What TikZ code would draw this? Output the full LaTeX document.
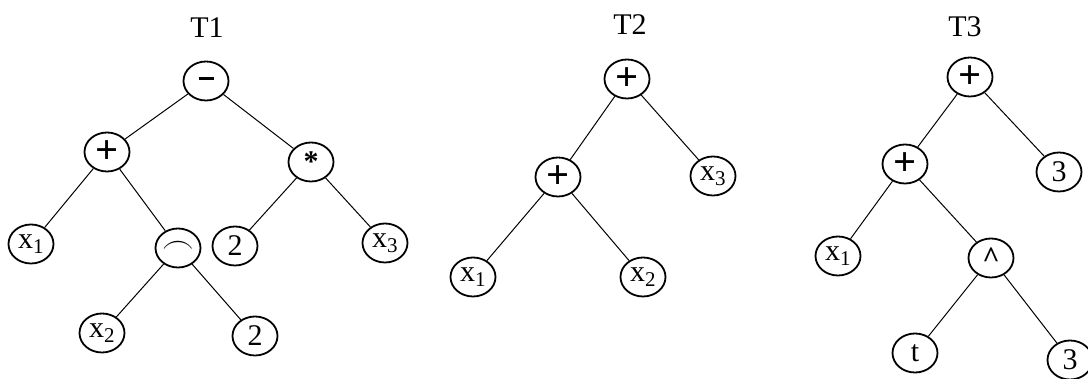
\documentclass[tikz,border=0pt]{standalone}
\usepackage{fontspec}
\setmainfont{Liberation Serif}
\usetikzlibrary{shapes.geometric}
\newcommand{\bigplus}{\scalebox{1.35}{\textbf{+}}}
\begin{document}
\begin{tikzpicture}[x=1pt,y=-1pt,
  nd/.style={ellipse,draw,line width=1.8pt,inner sep=0pt,minimum width=45pt,minimum height=39pt,font=\fontsize{30}{32}\selectfont},
  ttl/.style={font=\fontsize{30}{32}\selectfont},
  edge/.style={line width=1pt}]
\useasboundingbox (0,0) rectangle (1088,379);
% T1
\node[ttl] (t1) at (207,28) {T1};
\node[nd] (a) at (206,81) {\rule[0.3ex]{0.5em}{3pt}};
\node[nd] (b) at (107,152) {\bigplus};
\node[nd] (c) at (311,162) {\textbf{*}};
\node[nd] (d) at (31,244) {x\textsubscript{1}};
\node[nd] (e) at (178,248) {\scalebox{1.3}{$\frown$}};
\node[nd] (f) at (235,246) {2};
\node[nd] (g) at (385,243) {x\textsubscript{3}};
\node[nd] (h) at (102,333) {x\textsubscript{2}};
\node[nd] (i) at (255,336) {2};
\draw[edge] (a) -- (b);
\draw[edge] (a) -- (c);
\draw[edge] (b) -- (d);
\draw[edge] (b) -- (e);
\draw[edge] (c) -- (f);
\draw[edge] (c) -- (g);
\draw[edge] (e) -- (h);
\draw[edge] (e) -- (i);
% T2
\node[ttl] (t2) at (630,25) {T2};
\node[nd] (p) at (627,79) {\bigplus};
\node[nd] (q) at (558,177) {\bigplus};
\node[nd] (r) at (713,176) {x\textsubscript{3}};
\node[nd] (s) at (473,277) {x\textsubscript{1}};
\node[nd] (u) at (643,277) {x\textsubscript{2}};
\draw[edge] (p) -- (q);
\draw[edge] (p) -- (r);
\draw[edge] (q) -- (s);
\draw[edge] (q) -- (u);
% T3
\node[ttl] (t3) at (965,27) {T3};
\node[nd] (k) at (970,77) {\bigplus};
\node[nd] (l) at (905,164) {\bigplus};
\node[nd] (m) at (1059,172) {3};
\node[nd] (n) at (838,256) {x\textsubscript{1}};
\node[nd] (o) at (991,258) {\textbf{\textasciicircum}};
\node[nd] (v) at (915,353) {t};
\node[nd] (w) at (1070,360) {3};
\draw[edge] (k) -- (l);
\draw[edge] (k) -- (m);
\draw[edge] (l) -- (n);
\draw[edge] (l) -- (o);
\draw[edge] (o) -- (v);
\draw[edge] (o) -- (w);
\end{tikzpicture}
\end{document}
